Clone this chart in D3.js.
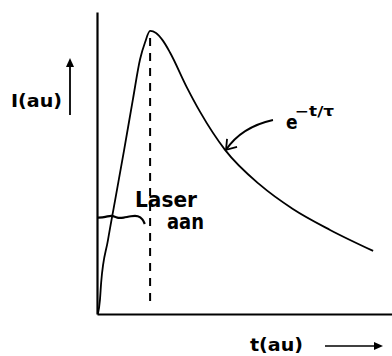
<!DOCTYPE html>
<html>
<head>
<meta charset="utf-8">
<script src="https://cdn.jsdelivr.net/npm/d3@7"></script>
<style>
  html, body { margin: 0; padding: 0; background: #fff; }
  svg { display: block; }
  text { font-family: "DejaVu Sans Condensed", "DejaVu Sans", sans-serif; font-weight: bold; fill: #000; }
</style>
</head>
<body>
<svg id="chart" width="392" height="356"></svg>
<script>
// Fluorescence intensity after a laser pulse (arbitrary units)
const pulseTime = [0.03, 0.10, 0.14, 0.37, 0.61, 0.92, 1.22, 1.46, 1.63, 1.80, 2.00, 2.24, 2.47, 3.05, 3.49, 4.34, 5.53, 6.64, 7.90, 9.36];
const pulseIntensity = [0.00, 0.05, 0.11, 0.26, 0.40, 0.58, 0.76, 0.90, 0.96, 1.00, 0.993, 0.965, 0.925, 0.80, 0.715, 0.58, 0.456, 0.371, 0.297, 0.223];

// moment the laser is switched off (peak) and the "laser on" bracket
const laserOffTime = 1.80;
const bracketTime = [0.00, 0.30, 0.50, 0.68, 0.90, 1.15, 1.40, 1.55, 1.62];
const bracketLevel = [0.340, 0.342, 0.350, 0.338, 0.340, 0.346, 0.348, 0.335, 0.318];

const labels = { y: "I(au)", x: "t(au)", laser1: "Laser", laser2: "aan", decayBase: "e", decayExp: "\u2212t/\u03c4" };

const svg = d3.select("#chart");
const x = d3.scaleLinear().domain([0, 10]).range([97, 392]);
const y = d3.scaleLinear().domain([0, 1.067]).range([314, 12]);

// axes: bare lines, no ticks
svg.append("g").attr("transform", `translate(0,${y(0)})`)
  .call(d3.axisBottom(x).tickValues([]).tickSizeOuter(0));
svg.append("g").attr("transform", `translate(${x(0)},0)`)
  .call(d3.axisLeft(y).tickValues([]).tickSizeOuter(0));
svg.selectAll(".domain").attr("stroke", "#000").attr("stroke-width", 2.2);

const pts = pulseTime.map((t, i) => [t, pulseIntensity[i]]);
const line = d3.line().x(d => x(d[0])).y(d => y(d[1])).curve(d3.curveMonotoneX);

// intensity curve
svg.append("path").datum(pts).attr("d", line)
  .attr("fill", "none").attr("stroke", "#000").attr("stroke-width", 1.8);

// dashed marker at the peak
svg.append("line")
  .attr("x1", x(laserOffTime)).attr("x2", x(laserOffTime))
  .attr("y1", y(0.975)).attr("y2", y(0.025))
  .attr("stroke", "#000").attr("stroke-width", 2)
  .attr("stroke-dasharray", "8,7");

// "laser on" bracket
const bracket = bracketTime.map((t, i) => [t, bracketLevel[i]]);
svg.append("path").datum(bracket)
  .attr("d", d3.line().x(d => x(d[0])).y(d => y(d[1])).curve(d3.curveBasis))
  .attr("fill", "none").attr("stroke", "#000").attr("stroke-width", 2.2);

svg.append("text").attr("x", 135).attr("y", 207)
  .attr("font-size", 21).attr("textLength", 62).attr("lengthAdjust", "spacingAndGlyphs")
  .text(labels.laser1);
svg.append("text").attr("x", 167).attr("y", 229)
  .attr("font-size", 21).attr("textLength", 37).attr("lengthAdjust", "spacingAndGlyphs")
  .text(labels.laser2);

// decay label with arrow pointing at the tail
const tip = [x(4.34) + 1, y(0.58)];
svg.append("path")
  .attr("d", `M273,120 C255,124 238,132 ${tip[0]},${tip[1]}`)
  .attr("fill", "none").attr("stroke", "#000").attr("stroke-width", 1.8);
svg.append("path")
  .attr("d", `M${tip[0] + 1},${tip[1] - 11} L${tip[0]},${tip[1]} L${tip[0] + 11},${tip[1] - 3}`)
  .attr("fill", "none").attr("stroke", "#000").attr("stroke-width", 1.8);
svg.append("text").attr("x", 286).attr("y", 129)
  .attr("font-size", 19).text(labels.decayBase);
svg.append("text").attr("x", 295).attr("y", 116)
  .attr("font-size", 14).attr("textLength", 39).attr("lengthAdjust", "spacingAndGlyphs")
  .text(labels.decayExp);

// axis titles with arrows
svg.append("text").attr("x", 11).attr("y", 107)
  .attr("font-size", 18).attr("textLength", 51).attr("lengthAdjust", "spacingAndGlyphs")
  .text(labels.y);
svg.append("line").attr("x1", 70).attr("x2", 70).attr("y1", 115).attr("y2", 64)
  .attr("stroke", "#000").attr("stroke-width", 1.8);
svg.append("path").attr("d", "M66,67 L70,58 L74,67 Z").attr("fill", "#000");

svg.append("text").attr("x", 250).attr("y", 351)
  .attr("font-size", 18).attr("textLength", 53).attr("lengthAdjust", "spacingAndGlyphs")
  .text(labels.x);
svg.append("line").attr("x1", 325).attr("x2", 376).attr("y1", 346).attr("y2", 346)
  .attr("stroke", "#000").attr("stroke-width", 1.6);
svg.append("path").attr("d", "M374,342 L383,346 L374,350 Z").attr("fill", "#000");
</script>
</body>
</html>
